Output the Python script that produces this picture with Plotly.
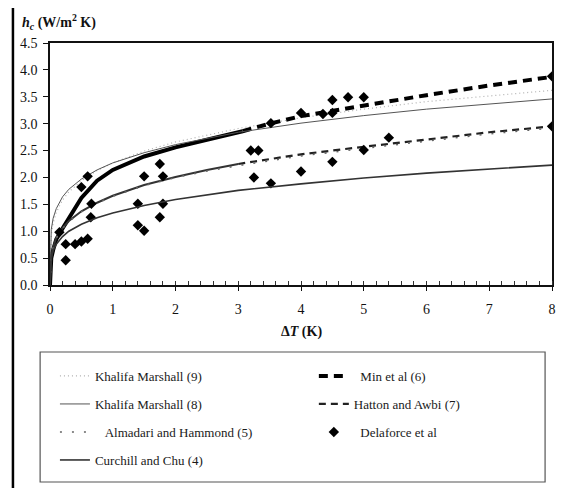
import plotly.graph_objects as go

# ---------------- data ----------------
dt_fine = [0, 0.02, 0.05, 0.1, 0.2, 0.3, 0.5, 0.75, 1, 1.5, 2, 2.5, 3, 4, 5, 6, 7, 8]
km9_h = [0, 0.93, 1.15, 1.35, 1.58, 1.73, 1.94, 2.13, 2.27, 2.49, 2.66, 2.79, 2.91, 3.11, 3.27, 3.41, 3.52, 3.62]
km8_h = [0, 1.03, 1.24, 1.42, 1.64, 1.78, 1.97, 2.14, 2.27, 2.46, 2.61, 2.73, 2.84, 3.01, 3.15, 3.27, 3.37, 3.46]
alm_h = [0, 0.50, 0.69, 0.87, 1.05, 1.18, 1.36, 1.52, 1.65, 1.85, 2.00, 2.12, 2.22, 2.40, 2.54, 2.68, 2.81, 2.92]
cc_h = [0, 0.51, 0.64, 0.76, 0.90, 1.00, 1.13, 1.25, 1.34, 1.48, 1.59, 1.68, 1.76, 1.88, 1.99, 2.08, 2.16, 2.23]

min_dt_lo = [0, 0.02, 0.05, 0.1, 0.2, 0.3, 0.5, 0.75, 1, 1.5, 2, 2.5, 3, 3.07]
min_h_lo = [0, 0.50, 0.65, 0.85, 1.05, 1.25, 1.62, 1.94, 2.14, 2.39, 2.56, 2.70, 2.84, 2.86]
min_dt_hi = [3.07, 3.5, 4, 5, 6, 7, 8]
min_h_hi = [2.86, 3.00, 3.14, 3.34, 3.53, 3.71, 3.87]

hat_dt_lo = [0, 0.02, 0.05, 0.1, 0.2, 0.3, 0.5, 0.75, 1, 1.5, 2, 2.5, 3]
hat_h_lo = [0, 0.50, 0.70, 0.88, 1.06, 1.19, 1.37, 1.53, 1.66, 1.86, 2.01, 2.14, 2.25]
hat_dt_hi = [3, 4, 5, 6, 7, 8]
hat_h_hi = [2.25, 2.43, 2.57, 2.71, 2.84, 2.95]

del_dt = [0.15, 0.25, 0.25, 0.4, 0.5, 0.6, 0.5, 0.6, 0.65, 0.66, 1.4, 1.4, 1.5, 1.5,
          1.75, 1.75, 1.8, 1.8, 3.2, 3.32, 3.25, 3.52, 3.52, 4.0, 4.0, 4.35, 4.5,
          4.5, 4.5, 4.75, 5.0, 5.0, 5.4, 8.0, 8.0]
del_h = [0.98, 0.76, 0.46, 0.76, 0.81, 0.86, 1.82, 2.02, 1.26, 1.51, 1.51, 1.11, 1.01, 2.02,
         1.26, 2.25, 2.02, 1.51, 2.50, 2.50, 2.00, 1.89, 3.01, 3.20, 2.11, 3.18, 3.20,
         3.44, 2.29, 3.49, 3.49, 2.51, 2.74, 3.88, 2.95]

x_ticks = [0, 1, 2, 3, 4, 5, 6, 7, 8]
y_ticks = [0.0, 0.5, 1.0, 1.5, 2.0, 2.5, 3.0, 3.5, 4.0, 4.5]

NB = "\u00a0"
names = {
    "km9": "Khalifa Marshall (9)",
    "km8": "Khalifa Marshall (8)",
    "alm": NB * 3 + "Almadari and Hammond (5)",
    "cc": "Curchill and Chu (4)",
    "min": NB * 2 + "Min et al (6)",
    "hat": "Hatton and Awbi (7)",
    "del": NB * 2 + "Delaforce et al",
}

FONT = "Liberation Serif"

fig = go.Figure()

fig.add_trace(go.Scatter(x=dt_fine, y=km9_h, mode="lines", name=names["km9"], legend="legend",
                         line=dict(color="#b0b0b0", width=1.2, dash="1px,3px")))
fig.add_trace(go.Scatter(x=min_dt_lo, y=min_h_lo, mode="lines", showlegend=False,
                         line=dict(color="black", width=4)))
fig.add_trace(go.Scatter(x=min_dt_hi, y=min_h_hi, mode="lines", name=names["min"], legend="legend2",
                         line=dict(color="black", width=4, dash="9px,6px")))
fig.add_trace(go.Scatter(x=dt_fine, y=km8_h, mode="lines", name=names["km8"], legend="legend3",
                         line=dict(color="#555555", width=1)))
fig.add_trace(go.Scatter(x=hat_dt_lo, y=hat_h_lo, mode="lines", showlegend=False,
                         line=dict(color="#333333", width=2)))
fig.add_trace(go.Scatter(x=hat_dt_hi, y=hat_h_hi, mode="lines", name=names["hat"], legend="legend4",
                         line=dict(color="#222222", width=2.2, dash="7px,5px")))
fig.add_trace(go.Scatter(x=dt_fine, y=alm_h, mode="lines", name=names["alm"], legend="legend5",
                         line=dict(color="#666666", width=1.6, dash="2px,10px")))
fig.add_trace(go.Scatter(x=del_dt, y=del_h, mode="markers", name=names["del"], legend="legend6",
                         marker=dict(symbol="diamond", size=8, color="black")))
fig.add_trace(go.Scatter(x=dt_fine, y=cc_h, mode="lines", name=names["cc"], legend="legend7",
                         line=dict(color="#333333", width=1.6)))

# the page body adds an 8 px offset; figure is sized to fill the window from there
OFF = 8
W, H = 560, 480
L, R, T, B = 40, 12, 35, 203


def px2x(sx):
    # screen x -> paper x
    return (sx - OFF - L) / (W - L - R)


def py2y(sy):
    # screen y -> paper y
    return 1 - (sy - OFF - T) / (H - T - B)


leg_common = dict(bgcolor="rgba(0,0,0,0)", borderwidth=0, itemwidth=30,
                  font=dict(family=FONT, size=13, color="#1a1a1a"),
                  xanchor="left", yanchor="middle", orientation="v")
rows = [376, 404, 432, 460]
left_x, right_x = 53, 315
legend_pos = {
    "legend": (left_x, rows[0]),
    "legend2": (right_x, rows[0]),
    "legend3": (left_x, rows[1]),
    "legend4": (right_x, rows[1]),
    "legend5": (left_x, rows[2]),
    "legend6": (right_x, rows[2]),
    "legend7": (left_x, rows[3]),
}
legend_layout = {}
for key, (lx, ly) in legend_pos.items():
    legend_layout[key] = dict(x=px2x(lx), y=py2y(ly), **leg_common)

fig.update_layout(
    width=W, height=H,
    margin=dict(l=L, r=R, t=T, b=B),
    paper_bgcolor="white", plot_bgcolor="white",
    font=dict(family=FONT, color="#111111"),
    showlegend=True,
    **legend_layout,
    xaxis=dict(range=[0, 8], tickvals=x_ticks, ticktext=[str(v) for v in x_ticks],
               showgrid=False, zeroline=False, showline=True, linecolor="#111111", linewidth=1.5,
               mirror=True, ticks="outside", ticklen=4, tickcolor="#111111", tickwidth=1.2,
               ticklabelstandoff=6,
               tickfont=dict(family=FONT, size=14, color="#111111"),
               minor=dict(dtick=0.2, ticks="inside", ticklen=4, tickcolor="#333333", tickwidth=1)),
    yaxis=dict(range=[0, 4.5], tickvals=y_ticks, ticktext=["%.1f" % v for v in y_ticks],
               showgrid=False, zeroline=False, showline=True, linecolor="#111111", linewidth=1.5,
               mirror=True, ticks="outside", ticklen=5, tickcolor="#111111", tickwidth=1.2,
               ticklabelstandoff=3,
               tickfont=dict(family=FONT, size=14, color="#111111")),
)

# axis titles
fig.add_annotation(x=px2x(18), y=py2y(22), xref="paper", yref="paper", xanchor="left", yanchor="middle",
                   text="<b><i>h</i><sub><i>c</i></sub> (W/m<sup>2</sup> K)</b>", showarrow=False,
                   font=dict(family=FONT, size=14, color="#111111"))
fig.add_annotation(x=0.5, y=py2y(332), xref="paper", yref="paper", xanchor="center", yanchor="middle",
                   text="<b>\u0394<i>T</i> (K)</b>", showarrow=False,
                   font=dict(family=FONT, size=14, color="#111111"))

# legend frame
fig.add_shape(type="rect", xref="paper", yref="paper",
              x0=px2x(38), x1=px2x(549), y0=py2y(482), y1=py2y(352),
              line=dict(color="#555555", width=1.2), fillcolor="rgba(0,0,0,0)", layer="below")
# outer frame (top and left edges)
fig.add_shape(type="line", xref="paper", yref="paper",
              x0=px2x(10), x1=px2x(572), y0=py2y(5), y1=py2y(5),
              line=dict(color="black", width=2.5))
fig.add_shape(type="line", xref="paper", yref="paper",
              x0=px2x(10.5), x1=px2x(10.5), y0=py2y(4), y1=py2y(492),
              line=dict(color="black", width=2.5))

fig.write_html("out.html")
